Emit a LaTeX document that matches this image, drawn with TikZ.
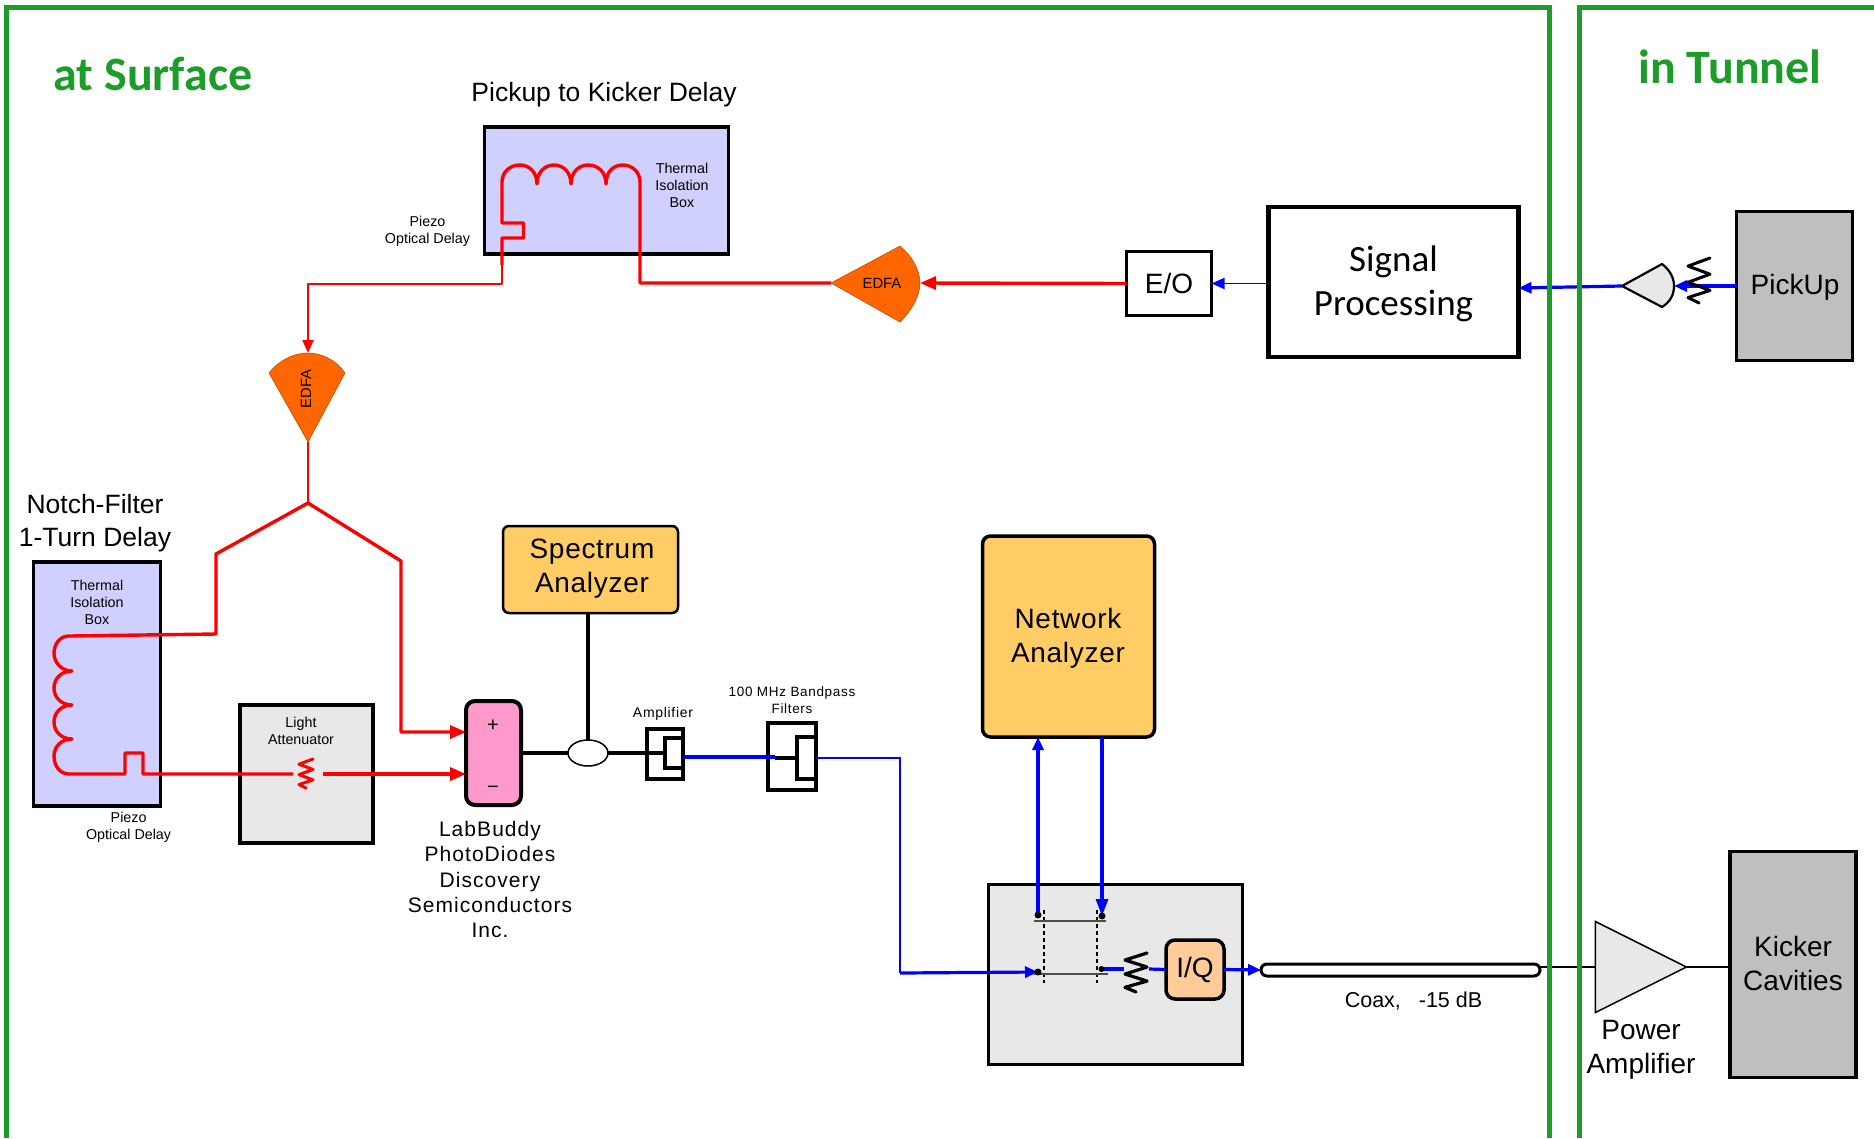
\documentclass[tikz,border=0pt]{standalone}
\usepackage{fontspec}
\usetikzlibrary{arrows.meta,shapes.geometric}
\setmainfont{Liberation Sans}
\newfontfamily\calfont{Carlito}
\newfontfamily\spfont[LetterSpace=5]{Liberation Sans}
\newfontfamily\spbfont[LetterSpace=2.5]{Liberation Sans}
\definecolor{frameg}{HTML}{1C9C28}
\definecolor{redl}{HTML}{FF0000}
\definecolor{bluel}{HTML}{0000FF}
\definecolor{thermal}{HTML}{D0D0FF}
\definecolor{lgray}{HTML}{E8E8E8}
\definecolor{mgray}{HTML}{BFBFBF}
\definecolor{amber}{HTML}{FFCC66}
\definecolor{peach}{HTML}{FFCC99}
\definecolor{pinkb}{HTML}{FF99CC}
\definecolor{edfac}{HTML}{FF6600}
\tikzset{
  frameline/.style={draw=frameg,line width=5pt},
  title/.style={text=frameg,font=\calfont\bfseries\fontsize{48}{48}\selectfont,inner sep=0pt},
  boxn/.style={draw=black,line width=3.5pt,inner sep=0pt,outer sep=0pt,align=center},
  thermalbox/.style={boxn,fill=thermal},
  graybox/.style={boxn,fill=lgray},
  mgraybox/.style={boxn,fill=mgray},
  amberbox/.style={boxn,fill=amber,rounded corners=6pt},
  lab/.style={inner sep=0pt,align=center},
  tiny/.style={lab,font=\fontsize{14.3}{17}\selectfont},
  big/.style={lab,font=\fontsize{26.5}{33.5}\selectfont},
  sp/.style={lab,font=\spbfont\fontsize{28}{33.5}\selectfont},
  redthick/.style={draw=redl,line width=3.4pt,line join=round},
  redthin/.style={draw=redl,line width=2.2pt,line join=round},
  bluethick/.style={draw=bluel,line width=3.2pt},
  bluethin/.style={draw=bluel,line width=1.8pt},
  blk/.style={draw=black,line width=3.6pt},
  thinblk/.style={draw=black,line width=1.5pt},
  tipr/.style={-{Triangle[length=16pt,width=13pt]}},
  tips/.style={-{Triangle[length=13pt,width=11pt]}},
  tipl/.style={-{Triangle[length=17pt,width=12pt]}},
  dot/.style={circle,fill=black,inner sep=0pt,minimum size=7pt},
  edfafill/.style={fill=edfac,draw=edfac!70!black,line width=.5pt},
}
\newcommand{\myzig}[6]{% cx, top, halfw, height, colour, width
  \draw[#5,line width=#6pt,line cap=round,line join=round]
    ({#1+#3},{#2}) -- ({#1-#3},{#2+#4*0.18}) -- ({#1+#3},{#2+#4*0.36}) -- ({#1-#3},{#2+#4*0.54})
    -- ({#1+#3},{#2+#4*0.72}) -- ({#1-#3},{#2+#4*0.88}) -- ({#1},{#2+#4});
}
\begin{document}
\begin{tikzpicture}[x=1pt,y=-1pt]
\useasboundingbox (0,0) rectangle (1874,1138);

% ---- boxes
\node[thermalbox,minimum width=244pt,minimum height=127pt] (ptk) at (606.5,190.5) {};
\node[thermalbox,minimum width=127pt,minimum height=244pt] (notch) at (97,684) {};
\node[graybox,minimum width=133pt,minimum height=138pt] (att) at (306.5,774) {};
\node[boxn,fill=white,minimum width=85pt,minimum height=64pt,font=\fontsize{28}{28}\selectfont] (eo) at (1169,283.5) {E/O};
\node[boxn,fill=white,line width=4.5pt,minimum width=250pt,minimum height=150pt] (sig) at (1393.5,282) {};
\node[mgraybox,minimum width=116pt,minimum height=149pt] (pick) at (1794.5,286) {};
\node[mgraybox,minimum width=126pt,minimum height=226pt] (kick) at (1793,964.5) {};
\node[amberbox,line width=2.5pt,minimum width=175pt,minimum height=87pt] (spec) at (590.5,569.5) {};
\node[amberbox,minimum width=172pt,minimum height=201pt,rounded corners=8pt] (net) at (1068.5,636.5) {};
\node[graybox,minimum width=254pt,minimum height=180pt] (mix) at (1115.5,974.5) {};
\node[boxn,fill=peach,rounded corners=9pt,minimum width=58pt,minimum height=59pt,font=\fontsize{28}{28}\selectfont] (iq) at (1195,969.5) {I/Q};
\node[boxn,fill=pinkb,line width=4pt,rounded corners=9pt,minimum width=55pt,minimum height=104pt] (pd) at (493.5,753) {};
\node[lab,font=\fontsize{20}{20}\selectfont] (plus) at (493,726) {+};
\node[lab,font=\fontsize{20}{20}\selectfont] (minus) at (493,790) {\textminus};
\node[ellipse,draw=black,line width=1.5pt,fill=white,minimum width=40pt,minimum height=26pt,inner sep=0pt,outer sep=0pt] (split) at (588,753) {};
% amplifier and filter
\node[boxn,fill=white,line width=3.3pt,minimum width=36pt,minimum height=50pt] (ampo) at (665,754) {};
\node[boxn,fill=white,line width=3.3pt,minimum width=18pt,minimum height=30pt] (ampi) at (674,753) {};
\node[boxn,fill=white,line width=3.3pt,minimum width=48pt,minimum height=67pt] (filto) at (792,756.5) {};
\node[boxn,fill=white,line width=3.3pt,minimum width=19pt,minimum height=42pt] (filti) at (806.5,758) {};
\node[draw=black,line width=3pt,fill=white,rounded corners=6pt,minimum width=279pt,minimum height=12pt,inner sep=0pt,outer sep=0pt] (coax) at (1400.5,970) {};
\node[isosceles triangle,isosceles triangle apex angle=53,isosceles triangle stretches,draw=black,line width=1.5pt,fill=lgray,minimum width=91pt,minimum height=91pt,inner sep=0pt,outer sep=0pt] (pamp) at (1623.5,967) {};

% ---- coordinates
\coordinate (ea) at (831,283);
\coordinate (eb) at (920,283);
\coordinate (fa) at (308,442);
\coordinate (fb) at (308,353);
\coordinate (gt) at (1622,286);
\coordinate (gr) at (1674,286);
\coordinate (junc) at (308,503);
\coordinate (corner) at (900,758);
\coordinate (d1) at (1038,915);
\coordinate (d2) at (1102,916);
\coordinate (d3) at (1038,972);
\coordinate (d4) at (1101.5,969);

% ---- EDFA shapes
\path[edfafill] (ea) -- (900,246) .. controls (912,256) and (920,270) .. (eb) .. controls (920,296) and (912,310) .. (900,322) -- cycle;
\path[edfafill] (fa) -- (269,373) .. controls (279,360) and (294,353) .. (fb) .. controls (322,353) and (336,360) .. (345,373) -- cycle;
\path[draw=black,fill=lgray,line width=2.2pt,line join=round] (gt) -- (1662,264) .. controls (1670,270) and (1674,278) .. (gr) .. controls (1674,295) and (1670,302) .. (1662,307) -- cycle;
\node[lab,font=\fontsize{14.8}{17}\selectfont] (edfa1) at (882,283) {EDFA};
\node[lab,font=\fontsize{14.8}{17}\selectfont,rotate=90] (edfa2) at (306,389) {EDFA};

% ---- red fibres
\draw[redthick] (ea) -- (640,283) -- (640,182)
  .. controls (640,172) and (632,165) .. (623,165) .. controls (613,165) and (606,172) .. (606,184)
  .. controls (606,172) and (598,165) .. (588,165) .. controls (579,165) and (571,172) .. (571,184)
  .. controls (571,172) and (563,165) .. (554,165) .. controls (545,165) and (537,172) .. (537,184)
  .. controls (537,172) and (529,165) .. (520,165) .. controls (510,165) and (502,172) .. (502,182)
  -- (502,223) -- (523.5,223) -- (523.5,238) -- (502,238) -- (502,265);
\draw[redthin,tips] (502,265) -- (502,284) -- (308,284) -- (fb);
\draw[redthick,tipr] (eo.west) -- (eb);
\draw[redthin] (fa) -- (junc);
\draw[redthick] (junc) -- (216,554) -- (216,634) -- (69,636)
  .. controls (60,636) and (54,644) .. (54,653) .. controls (54,663) and (62,671) .. (72,671)
  .. controls (62,671) and (54,678) .. (54,688) .. controls (54,698) and (62,705) .. (72,705)
  .. controls (62,705) and (54,712) .. (54,722) .. controls (54,732) and (62,739) .. (72,739)
  .. controls (62,739) and (54,746) .. (54,756) .. controls (54,766) and (60,774) .. (69,774)
  -- (125,774) -- (125,753) -- (143,753) -- (143,774) -- (293,774);
\coordinate (aout) at (323,774);
\draw[redthick,tipr] (aout) -- (pd.west |- aout);
\draw[redthick,tipr] (junc) -- (401,561) -- (401,732) -- (pd.west |- 0,732);
\myzig{306}{759}{7}{29}{redl}{3}

% ---- black connectors
\draw[blk] (pd.east) -- (split.west);
\draw[blk] (spec.south -| split.north) -- (split.north);
\draw[blk] (split.east) -- (ampi.west);
\draw[blk] (775,758) -- (filti.west |- 0,758);
\draw[thinblk] (coax.east |- pamp.west) -- (pamp.west);
\draw[thinblk] (pamp.east) -- (kick.west |- pamp.east);

% ---- blue
\draw[bluethick] (ampo.east |- 0,757) -- (775,757);
\draw[bluethin] (filto.east |- corner) -- (corner) -- (900,973);
\draw[bluethick,tips] (900,973) -- (d3);
\draw[bluethick,tips] (d1) -- (d1 |- net.south);
\draw[bluethick,tipl] (d2 |- net.south) -- (d2);
\draw[bluethick] (d4) -- (1124,969);
\draw[bluethick] (1149,969) -- (iq.west);
\draw[bluethick,tips] (iq.east) -- (coax.west);
\draw[bluethick,tips] (pick.west) -- (gr);
\draw[bluethick,tips] (gt) -- (sig.east |- 0,288);
\draw[bluethin,tips] (sig.west |- eo.east) -- (eo.east);
\myzig{1699}{258}{11}{45}{black}{3}
\myzig{1136}{953}{11}{39}{black}{3.2}

% ---- directional coupler
\draw[draw=black,line width=2.5pt,dash pattern=on 4pt off 3pt] (1044,910) -- (1044,983);
\draw[draw=black,line width=2.5pt,dash pattern=on 4pt off 3pt] (1097,910) -- (1097,983);
\draw[draw=black!70,line width=1.5pt] (1033.5,921) -- (1105.5,921);
\draw[draw=black!70,line width=1.5pt] (1034,974) -- (1107.5,974);
\node[dot] (dd1) at (d1) {};
\node[dot] (dd2) at (d2) {};
\node[dot] (dd3) at (d3) {};
\node[dot,minimum size=6pt] (dd4) at (d4) {};

% ---- frames
\draw[frameline] (6.5,1138) -- (6.5,7) -- (1549,7) -- (1549,1138);
\draw[frameline] (1874,7) -- (1579,7) -- (1579,1138);

% ---- labels
\node[title] (surface) at (153,74) {at Surface};
\node[title] (tunnel) at (1730,67) {in Tunnel};
\node[big] (ptkl) at (604,95) {Pickup to Kicker Delay};
\node[tiny] (therm1) at (682,185) {Thermal\\Isolation\\Box};
\node[tiny] (piezo1) at (427.5,231) {Piezo\\Optical Delay};
\node[big] (notchl) at (95,523) {Notch-Filter\\1-Turn Delay};
\node[tiny] (therm2) at (97,602) {Thermal\\Isolation\\Box};
\node[tiny] (piezo2) at (128.6,827) {Piezo\\Optical Delay};
\node[tiny] (attl) at (301,731) {Light\\Attenuator};
\node[lab,font=\calfont\fontsize{37}{44}\selectfont] (sigl) at (1393.5,283.5) {Signal\\Processing};
\node[lab,font=\fontsize{28}{28}\selectfont] (pickl) at (1795,287.5) {PickUp};
\node[lab,font=\fontsize{28}{34}\selectfont] (kickl) at (1793,963.5) {Kicker\\Cavities};
\node[sp] (specl) at (592,568.5) {Spectrum\\Analyzer};
\node[sp] (netl) at (1068,638.5) {Network\\Analyzer};
\node[lab,font=\spfont\fontsize{21}{25.3}\selectfont] (lbl) at (490,879.5) {LabBuddy\\PhotoDiodes\\Discovery\\Semiconductors\\Inc.};
\node[lab,font=\spfont\fontsize{14}{17}\selectfont] (ampl) at (663,714) {Amplifier};
\node[lab,font=\spfont\fontsize{13.5}{17}\selectfont] (filtl) at (792,700.5) {100 MHz Bandpass\\Filters};
\node[lab,font=\fontsize{21.5}{21}\selectfont] (coaxl) at (1413.5,1001) {Coax,\ \ \ -15 dB};
\node[lab,font=\fontsize{28}{34}\selectfont] (pal) at (1641,1049.5) {Power\\Amplifier};
\end{tikzpicture}
\end{document}
